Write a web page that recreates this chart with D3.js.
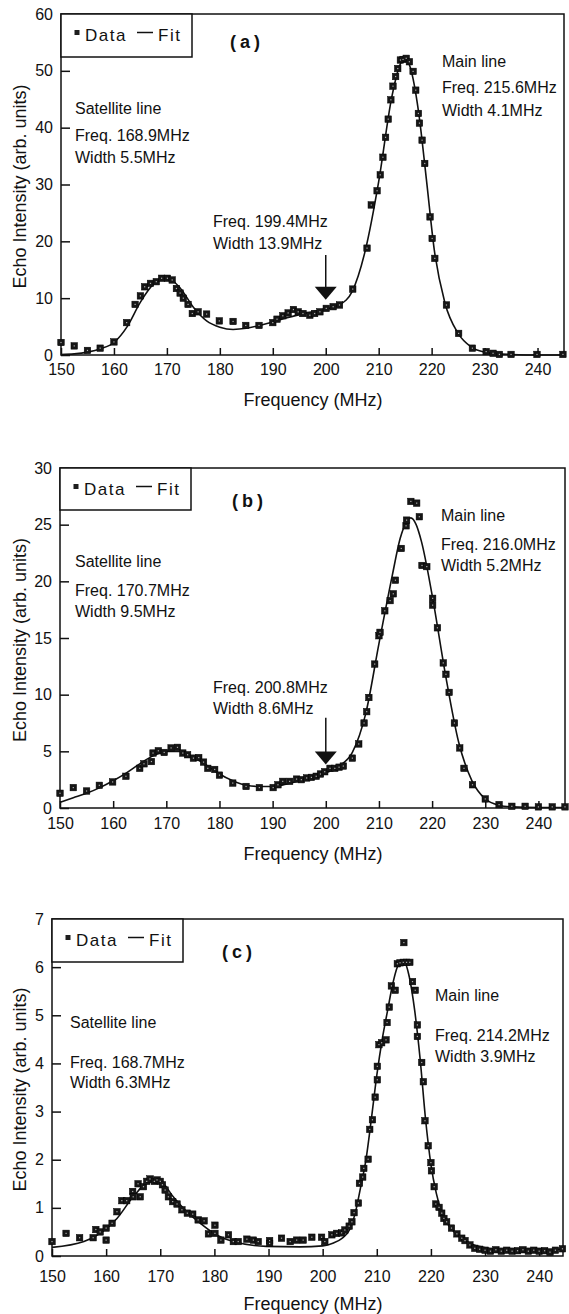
<!DOCTYPE html>
<html>
<head>
<meta charset="utf-8">
<script src="https://cdn.jsdelivr.net/npm/d3@7"></script>
<style>
  body { margin: 0; background: #fff; }
  svg { display: block; }
  text { font-family: "Liberation Sans", Arial, Helvetica, sans-serif; fill: #111; }
</style>
</head>
<body>
<script>
// Tick labels
const xTicks = [150, 160, 170, 180, 190, 200, 210, 220, 230, 240];
const yTicksA = [0, 10, 20, 30, 40, 50, 60];
const yTicksB = [0, 5, 10, 15, 20, 25, 30];
const yTicksC = [0, 1, 2, 3, 4, 5, 6, 7];

// Panel (a) measured points
const freqA = [150, 152.5, 155, 157.4, 160, 162.4, 164, 165, 165.8, 166.9, 168, 169, 170.1, 171, 171.8, 172.5, 173.1, 174, 174.8, 175.9, 177.5, 179.9, 182.5, 184.9, 187.4, 190, 190.8, 191.9, 192.9, 193.9, 194.8, 195.7, 197, 197.9, 198.9, 200.1, 201.4, 202.6, 205.1, 207.8, 208.6, 209.7, 210.3, 210.8, 211.3, 211.8, 212.3, 212.7, 213.2, 213.6, 214.1, 214.6, 215.2, 215.8, 216.5, 217, 217.5, 217.7, 218.2, 218.7, 219.7, 220.1, 220.6, 222.8, 225.1, 227.7, 230.3, 231.6, 232.8, 235, 239.9, 244.8];
const echoA = [2.2, 1.6, 0.8, 1.2, 2.3, 5.7, 8.9, 10.4, 12.0, 12.6, 12.9, 13.5, 13.5, 13.2, 11.7, 10.9, 10.0, 8.9, 7.3, 7.6, 7.2, 6.0, 5.9, 5.2, 5.2, 5.7, 6.3, 6.9, 7.4, 8.0, 7.6, 7.3, 7.0, 7.3, 7.6, 8.2, 8.5, 8.8, 11.6, 18.8, 26.4, 28.9, 31.7, 34.8, 38.3, 41.5, 44.9, 47.3, 49.0, 50.4, 51.9, 52.0, 52.2, 51.6, 49.9, 46.6, 42.5, 40.8, 37.8, 33.7, 24.3, 20.5, 17.0, 8.8, 3.8, 1.2, 0.6, 0.3, 0.1, 0.1, 0.1, 0.1];
// Panel (a) fit curve
const fitFreqA = [150, 152.5, 155, 157.5, 160, 162.5, 165, 167.5, 170, 172.5, 175, 177.5, 180, 182.5, 185, 187.5, 190, 192.5, 195, 197.5, 200, 202.5, 205, 207.5, 210, 212.5, 214, 215, 216, 217.5, 219, 220.5, 222.5, 225, 227.5, 230, 232.5, 235, 240, 245];
const fitA = [0.1, 0.2, 0.5, 1.1, 2.2, 5.0, 9.3, 12.5, 13.6, 11.8, 8.4, 6.0, 4.9, 4.5, 4.7, 5.2, 5.8, 6.5, 7.1, 7.6, 8.1, 8.8, 11.2, 18.5, 30.5, 45.5, 51, 52.3, 50.5, 43, 31, 18.5, 9.2, 3.8, 1.4, 0.5, 0.2, 0.1, 0, 0];

// Panel (b) measured points
const freqB = [150, 152.5, 155, 157.4, 159.9, 162.4, 165, 165.8, 167.2, 167.5, 168.5, 169.6, 170.9, 172.1, 173.1, 174, 175.1, 176.1, 177, 177.8, 179.1, 180, 182.5, 185, 187.5, 190.1, 191, 191.9, 193.2, 194.5, 195.4, 196.4, 197.3, 198.2, 199, 199.8, 200.8, 201.7, 202.5, 203.3, 205, 206.2, 207.2, 207.7, 208.1, 209.2, 210, 210.2, 211.1, 212.1, 212.7, 213.1, 214.2, 215.1, 215.2, 216, 217.1, 217.6, 218.1, 219, 220.1, 220.1, 221, 222.1, 222.6, 223.2, 224.2, 225.2, 226, 227.6, 230, 232.6, 235, 237.5, 240, 242.6, 245];
const echoB = [1.3, 1.8, 1.5, 2.0, 2.3, 2.8, 3.5, 3.9, 4.1, 4.85, 5.05, 4.9, 5.3, 5.35, 4.85, 4.7, 4.4, 4.45, 4.05, 3.5, 3.4, 2.9, 2.2, 1.9, 1.8, 1.8, 2.05, 2.35, 2.35, 2.55, 2.5, 2.65, 2.7, 2.8, 3.0, 3.2, 3.5, 3.5, 3.6, 3.7, 4.4, 5.65, 7.5, 8.5, 9.75, 12.7, 15.2, 15.5, 17.4, 18.3, 18.9, 20.1, 22.9, 24.9, 25.4, 27.05, 26.9, 25.7, 21.4, 21.3, 18.5, 17.9, 15.9, 12.8, 11.8, 10.2, 7.5, 5.3, 3.5, 2.05, 0.8, 0.3, 0.15, 0.15, 0.1, 0.1, 0.1];
const fitFreqB = [150, 152.5, 155, 157.5, 160, 162.5, 165, 167.5, 170, 172.5, 175, 177.5, 180, 182.5, 185, 187.5, 190, 192.5, 195, 197.5, 200, 202.5, 205, 207.5, 210, 212.5, 214, 215, 216, 217, 218, 220, 222.5, 225, 227.5, 230, 232.5, 235, 240, 245];
const fitB = [0.5, 0.9, 1.3, 1.8, 2.4, 3.1, 3.9, 4.6, 5.0, 5.0, 4.5, 3.8, 3.0, 2.4, 2.0, 1.9, 1.9, 2.1, 2.4, 2.7, 3.1, 3.7, 4.9, 8.3, 14.5, 20.5, 23.8, 25.1, 25.6, 25.0, 23.5, 18.8, 11.8, 5.8, 2.4, 0.8, 0.25, 0.1, 0.05, 0.05];

// Panel (c) measured points
const freqC = [150, 152.6, 155.1, 157.6, 158.1, 158.9, 160, 160, 161.1, 162, 162.9, 163.8, 164.9, 165, 165.9, 166.3, 166.9, 167.5, 168.1, 168.9, 169.4, 170, 170.4, 170.9, 171.5, 172.3, 173.1, 174, 175, 176, 177, 178.1, 178.9, 180.1, 180.1, 181.2, 182.6, 183.5, 184.4, 186, 187.2, 188.1, 190.2, 190.2, 192.4, 194, 195.2, 196.4, 198, 199.8, 200.4, 201.7, 202.6, 203.5, 204.1, 204.9, 205.4, 205.8, 206.6, 206.8, 207.4, 207.6, 208.4, 208.7, 209.2, 209.7, 210.1, 210.1, 210.4, 210.9, 211.7, 211.9, 212.3, 212.7, 213.4, 213.8, 214.3, 214.9, 215, 215.5, 216.1, 216.6, 217.1, 217.5, 217.5, 218.3, 218.6, 218.9, 219.5, 220, 220.1, 220.6, 220.9, 221.5, 222, 222.4, 222.9, 223.8, 224.8, 225.7, 226.3, 227.2, 228.1, 229, 230, 231, 232, 233, 234, 235, 236, 237, 238, 239, 240, 241, 242, 243, 244.3];
const echoC = [0.3, 0.47, 0.38, 0.38, 0.55, 0.5, 0.33, 0.58, 0.68, 0.92, 1.15, 1.15, 1.34, 1.23, 1.5, 1.23, 1.44, 1.55, 1.6, 1.55, 1.58, 1.55, 1.48, 1.37, 1.23, 1.13, 1.08, 0.96, 0.89, 0.87, 0.75, 0.73, 0.46, 0.64, 0.47, 0.33, 0.44, 0.3, 0.3, 0.35, 0.33, 0.3, 0.32, 0.26, 0.37, 0.3, 0.33, 0.33, 0.39, 0.39, 0.3, 0.44, 0.47, 0.48, 0.54, 0.62, 0.71, 0.9, 1.1, 1.51, 1.64, 1.82, 2.01, 2.63, 2.83, 3.3, 3.66, 3.94, 4.39, 4.43, 4.49, 4.85, 5.17, 5.61, 5.52, 6.07, 6.09, 6.1, 6.51, 6.1, 6.1, 5.7, 5.52, 4.8, 4.56, 4.02, 3.62, 2.81, 2.29, 1.94, 1.77, 1.44, 1.08, 1.01, 0.89, 0.78, 0.71, 0.58, 0.46, 0.37, 0.32, 0.23, 0.16, 0.14, 0.12, 0.1, 0.13, 0.1, 0.12, 0.1, 0.11, 0.13, 0.1, 0.12, 0.1, 0.11, 0.08, 0.12, 0.15];
const fitFreqC = [150, 155.9, 158.9, 162, 165, 168.1, 170, 172.4, 174.9, 177.4, 180.5, 183.5, 189.6, 195.8, 200, 202, 203.5, 205, 206, 207, 208, 209, 210, 211, 212, 213, 214, 215, 216, 217, 218, 219, 220, 221, 222, 223.5, 226, 228.4, 232.7, 244.4];
const fitC = [0.18, 0.3, 0.47, 0.78, 1.23, 1.54, 1.54, 1.23, 0.92, 0.68, 0.43, 0.3, 0.2, 0.19, 0.21, 0.27, 0.36, 0.55, 0.88, 1.42, 2.0, 2.85, 3.75, 4.5, 5.1, 5.68, 6.05, 6.12, 5.8, 5.1, 4.1, 2.85, 1.9, 1.3, 0.9, 0.6, 0.35, 0.21, 0.14, 0.14];

// Annotation texts
const labelsA = ["Satellite line", "Freq. 168.9MHz", "Width 5.5MHz", "Freq. 199.4MHz", "Width 13.9MHz", "Main line", "Freq. 215.6MHz", "Width 4.1MHz"];
const labelsB = ["Satellite line", "Freq. 170.7MHz", "Width 9.5MHz", "Freq. 200.8MHz", "Width 8.6MHz", "Main line", "Freq. 216.0MHz", "Width 5.2MHz"];
const labelsC = ["Satellite line", "Freq. 168.7MHz", "Width 6.3MHz", "Main line", "Freq. 214.2MHz", "Width 3.9MHz"];

const width = 569, height = 1314;

const svg = d3.select("body")
    .append("svg")
    .attr("width", width)
    .attr("height", height);

// layout of the three panels (box in pixels, label offsets from the box corner)
const panels = [
    { tag: "(a)", box: { left: 61, top: 14, right: 564, bottom: 355 }, xMax: 245, yMax: 60, yTicks: yTicksA,
      freq: freqA, echo: echoA, fitFreq: fitFreqA, fit: fitA, labels: labelsA,
      labelPos: [[14, 100], [14, 127], [14, 149], [152, 213], [152, 235], [381, 53], [381, 79], [381, 102]],
      tagPos: [169, 34], arrow: [200, 17.6, 9.7], legendH: 43, tickPad: 9, titleOff: 51 },
    { tag: "(b)", box: { left: 60, top: 468, right: 565, bottom: 808 }, xMax: 245, yMax: 30, yTicks: yTicksB,
      freq: freqB, echo: echoB, fitFreq: fitFreqB, fit: fitB, labels: labelsB,
      labelPos: [[15, 99], [15, 128], [15, 149], [153, 225], [153, 246], [381, 53], [381, 82], [381, 103]],
      tagPos: [172, 39], arrow: [200, 7.97, 3.84], legendH: 42, tickPad: 10, titleOff: 52 },
    { tag: "(c)", box: { left: 52, top: 919, right: 563, bottom: 1256 }, xMax: 244.4, yMax: 7, yTicks: yTicksC,
      freq: freqC, echo: echoC, fitFreq: fitFreqC, fit: fitC, labels: labelsC,
      labelPos: [[18, 109], [18, 149], [18, 169], [383, 82], [383, 122], [383, 143]],
      tagPos: [170, 39], arrow: null, legendH: 43, tickPad: 15, titleOff: 54 }
];

panels.forEach(p => {
    const b = p.box;
    const g = svg.append("g");

    const x = d3.scaleLinear().domain([150, p.xMax]).range([b.left, b.right]);
    const y = d3.scaleLinear().domain([0, p.yMax]).range([b.bottom, b.top]);

    // X axis (ticks point inward)
    const xa = g.append("g")
        .attr("transform", `translate(0,${b.bottom})`)
        .call(d3.axisBottom(x).tickValues(xTicks).tickFormat(d3.format("d"))
            .tickSizeInner(-7).tickSizeOuter(0).tickPadding(p.tickPad));
    xa.select(".domain").remove();
    xa.selectAll("line").attr("stroke", "#111").attr("stroke-width", 1.5);
    xa.selectAll("text").attr("font-size", 16).attr("fill", "#111")
        .style("font-family", "'Liberation Sans', Arial, sans-serif");

    // Y axis
    const ya = g.append("g")
        .attr("transform", `translate(${b.left},0)`)
        .call(d3.axisLeft(y).tickValues(p.yTicks).tickFormat(d3.format("d"))
            .tickSizeInner(-9).tickSizeOuter(0).tickPadding(8));
    ya.select(".domain").remove();
    ya.selectAll("line").attr("stroke", "#111").attr("stroke-width", 1.5);
    ya.selectAll("text").attr("font-size", 16).attr("fill", "#111")
        .style("font-family", "'Liberation Sans', Arial, sans-serif");

    // frame
    g.append("rect")
        .attr("x", b.left).attr("y", b.top)
        .attr("width", b.right - b.left).attr("height", b.bottom - b.top)
        .attr("fill", "none").attr("stroke", "#111").attr("stroke-width", 1.5);

    // axis titles
    g.append("text")
        .attr("x", 313)
        .attr("y", b.bottom + p.titleOff)
        .attr("text-anchor", "middle")
        .attr("font-size", 18)
        .text("Frequency (MHz)");

    g.append("text")
        .attr("transform", `translate(26,${(b.top + b.bottom) / 2 + 2}) rotate(-90)`)
        .attr("text-anchor", "middle")
        .attr("font-size", 18)
        .text("Echo Intensity (arb. units)");

    // fit curve
    const fitData = p.fitFreq.map((f, i) => ({ f: f, v: p.fit[i] }));
    g.append("path")
        .datum(fitData)
        .attr("fill", "none")
        .attr("stroke", "#111")
        .attr("stroke-width", 1.6)
        .attr("d", d3.line().x(d => x(d.f)).y(d => y(d.v)).curve(d3.curveMonotoneX));

    // data markers
    const pts = p.freq.map((f, i) => ({ f: f, v: p.echo[i] }));
    const s = 6.5;
    g.selectAll("rect.pt")
        .data(pts)
        .enter()
        .append("rect")
        .attr("class", "pt")
        .attr("x", d => x(d.f) - s / 2)
        .attr("y", d => y(d.v) - s / 2)
        .attr("width", s).attr("height", s)
        .attr("fill", "#161616")
        .attr("stroke", "#000").attr("stroke-width", 0.5);
    g.selectAll("rect.dot")
        .data(pts)
        .enter()
        .append("rect")
        .attr("class", "dot")
        .attr("x", d => x(d.f) - 0.6)
        .attr("y", d => y(d.v) - 0.6)
        .attr("width", 1.2).attr("height", 1.2)
        .attr("fill", "#b0b0b0");

    // arrow for the middle component
    if (p.arrow) {
        const ax = x(p.arrow[0]);
        const yTop = y(p.arrow[1]), yTip = y(p.arrow[2]);
        g.append("line")
            .attr("x1", ax).attr("x2", ax)
            .attr("y1", yTop).attr("y2", yTip - 10)
            .attr("stroke", "#111").attr("stroke-width", 1.5);
        g.append("path")
            .attr("d", `M${ax - 11},${yTip - 13}L${ax + 11},${yTip - 13}L${ax},${yTip}Z`)
            .attr("fill", "#111");
    }

    // legend box
    const lg = g.append("g").attr("transform", `translate(${b.left},${b.top})`);
    lg.append("rect")
        .attr("width", 131).attr("height", p.legendH)
        .attr("fill", "#fff").attr("stroke", "#111").attr("stroke-width", 1.5);
    lg.append("rect")
        .attr("x", 13.5).attr("y", 16).attr("width", 5).attr("height", 5)
        .attr("fill", "#1e1e1e");
    lg.append("text")
        .attr("x", 24).attr("y", 26.5)
        .attr("font-size", 17).attr("letter-spacing", 1.5)
        .text("Data");
    lg.append("line")
        .attr("x1", 76).attr("x2", 92).attr("y1", 18.5).attr("y2", 18.5)
        .attr("stroke", "#111").attr("stroke-width", 1.5);
    lg.append("text")
        .attr("x", 97).attr("y", 26.5)
        .attr("font-size", 17).attr("letter-spacing", 1.5)
        .text("Fit");

    // panel tag
    g.append("text")
        .attr("x", b.left + p.tagPos[0]).attr("y", b.top + p.tagPos[1])
        .attr("font-size", 18).attr("font-weight", "bold").attr("letter-spacing", 4)
        .text(p.tag);

    // annotations
    g.selectAll("text.ann")
        .data(p.labels)
        .enter()
        .append("text")
        .attr("class", "ann")
        .attr("x", (d, i) => b.left + p.labelPos[i][0])
        .attr("y", (d, i) => b.top + p.labelPos[i][1])
        .attr("font-size", 16)
        .text(d => d);
});
</script>
</body>
</html>
